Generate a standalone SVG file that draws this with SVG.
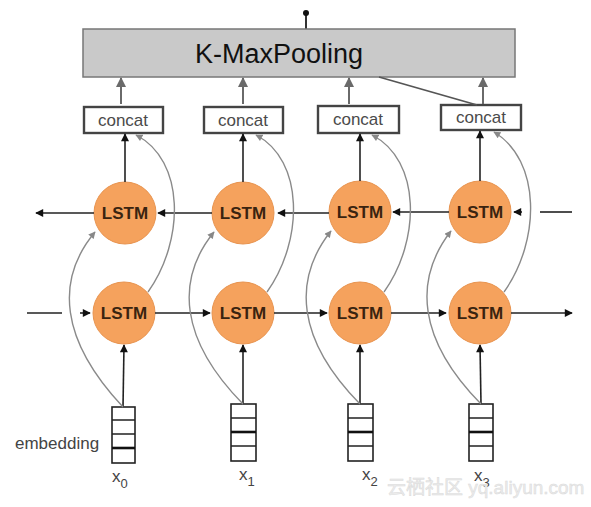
<svg xmlns="http://www.w3.org/2000/svg" width="591" height="507" viewBox="0 0 591 507">
<style>
.lstm{fill:#F5A25D;stroke:#E89450;stroke-width:1}
.lt{font-family:"Liberation Sans",Arial,sans-serif;font-weight:bold;font-size:17px;fill:#3a2410;text-anchor:middle}
.cc{fill:#fff;stroke:#444;stroke-width:2.4}
.ct{font-family:"Liberation Sans",Arial,sans-serif;font-size:17px;fill:#4a4a4a;text-anchor:middle}
.blk{stroke:#222;stroke-width:1.6;fill:none}
.gry{stroke:#8a8a8a;stroke-width:1.4;fill:none}
.pool{stroke:#6a6a6a;stroke-width:2;fill:none}
.emb{fill:#fff;stroke:#222;stroke-width:1.6}
.lab{font-family:"Liberation Sans",Arial,sans-serif;font-size:17px;fill:#444}
</style>
<defs>
<marker id="ab" viewBox="0 0 10 10" refX="9" refY="5" markerWidth="9" markerHeight="8" markerUnits="userSpaceOnUse" orient="auto"><path d="M0 0L10 5L0 10z" fill="#111"/></marker>
<marker id="ag" viewBox="0 0 10 10" refX="9" refY="5" markerWidth="8" markerHeight="7" markerUnits="userSpaceOnUse" orient="auto"><path d="M0 0L10 5L0 10z" fill="#888"/></marker>
<marker id="ap" viewBox="0 0 10 10" refX="9" refY="5" markerWidth="11" markerHeight="10" markerUnits="userSpaceOnUse" orient="auto"><path d="M0 0L10 5L0 10z" fill="#6a6a6a"/></marker>
</defs>
<rect width="591" height="507" fill="#fff"/>

<g id="pool">
<line x1="306" y1="13" x2="306" y2="29" stroke="#333" stroke-width="2"/>
<circle cx="306" cy="13" r="3" fill="#111"/>
<rect x="83" y="29" width="432" height="48" fill="#c9c9c9" stroke="#777" stroke-width="1.5"/>
<text x="279" y="63" font-family="'Liberation Sans',Arial,sans-serif" font-size="27" fill="#111" text-anchor="middle">K-MaxPooling</text>
</g>

<g id="concat0"><rect class="cc" x="84" y="107" width="79" height="26"/><text class="ct" x="123" y="126">concat</text></g>
<g id="concat1"><rect class="cc" x="204" y="107" width="79" height="26"/><text class="ct" x="243" y="126">concat</text></g>
<g id="concat2"><rect class="cc" x="318" y="106" width="81" height="27"/><text class="ct" x="358" y="125">concat</text></g>
<g id="concat3"><rect class="cc" x="441" y="105" width="80" height="25"/><text class="ct" x="481" y="123">concat</text></g>

<g id="lstm_b0"><circle class="lstm" cx="125" cy="213" r="31"/><text class="lt" x="125" y="219">LSTM</text></g>
<g id="lstm_b1"><circle class="lstm" cx="243" cy="213" r="31"/><text class="lt" x="243" y="219">LSTM</text></g>
<g id="lstm_b2"><circle class="lstm" cx="360" cy="212" r="31"/><text class="lt" x="360" y="218">LSTM</text></g>
<g id="lstm_b3"><circle class="lstm" cx="480" cy="212" r="31"/><text class="lt" x="480" y="218">LSTM</text></g>

<g id="lstm_f0"><circle class="lstm" cx="124" cy="313" r="31"/><text class="lt" x="124" y="319">LSTM</text></g>
<g id="lstm_f1"><circle class="lstm" cx="243" cy="313" r="31"/><text class="lt" x="243" y="319">LSTM</text></g>
<g id="lstm_f2"><circle class="lstm" cx="360" cy="313" r="31"/><text class="lt" x="360" y="319">LSTM</text></g>
<g id="lstm_f3"><circle class="lstm" cx="480" cy="313" r="31"/><text class="lt" x="480" y="319">LSTM</text></g>

<g id="emb0"><rect class="emb" x="112" y="407" width="23" height="56"/><path class="blk" d="M112 420H135M112 434H135"/><path d="M112 448H135" stroke="#111" stroke-width="2.6"/></g>
<g id="emb1"><rect class="emb" x="231" y="404" width="25" height="57"/><path class="blk" d="M231 418H256M231 446H256"/><path d="M231 432H256" stroke="#111" stroke-width="2.6"/></g>
<g id="emb2"><rect class="emb" x="348" y="404" width="25" height="57"/><path class="blk" d="M348 418H373M348 446H373"/><path d="M348 432H373" stroke="#111" stroke-width="2.6"/></g>
<g id="emb3"><rect class="emb" x="469" y="404" width="24" height="57"/><path class="blk" d="M469 418H493M469 446H493"/><path d="M469 432H493" stroke="#111" stroke-width="2.6"/></g>

<g id="labels">
<text class="lab" x="15" y="449">embedding</text>
<text class="lab" x="112" y="482">x<tspan font-size="13" dy="6">0</tspan></text>
<text class="lab" x="239" y="480">x<tspan font-size="13" dy="6">1</tspan></text>
<text class="lab" x="362" y="480">x<tspan font-size="13" dy="6">2</tspan></text>
<text class="lab" x="474" y="481">x<tspan font-size="13" dy="6">3</tspan></text>
<text x="387" y="494" font-family="'Liberation Sans','Noto Sans CJK SC',sans-serif" font-size="19" fill="#ececec" stroke="#dadada" stroke-width="0.5">云栖社区 yq.aliyun.com</text>
</g>

<g id="connectors">
<line class="pool" x1="121" y1="104" x2="121" y2="78" marker-end="url(#ap)"/>
<line class="pool" x1="243" y1="104" x2="243" y2="78" marker-end="url(#ap)"/>
<line class="pool" x1="349" y1="104" x2="349" y2="78" marker-end="url(#ap)"/>
<line class="pool" x1="483" y1="104" x2="483" y2="78" marker-end="url(#ap)"/>
<line x1="379" y1="77" x2="477" y2="105" stroke="#555" stroke-width="1.6"/>
<line class="blk" x1="125" y1="182" x2="125" y2="134" marker-end="url(#ab)"/>
<line class="blk" x1="243" y1="182" x2="243" y2="134" marker-end="url(#ab)"/>
<line class="blk" x1="360" y1="181" x2="360" y2="134" marker-end="url(#ab)"/>
<line class="blk" x1="480" y1="181" x2="480" y2="131" marker-end="url(#ab)"/>
<line class="blk" x1="94" y1="213" x2="36" y2="213" marker-end="url(#ab)"/>
<line class="blk" x1="212" y1="213" x2="158" y2="213" marker-end="url(#ab)"/>
<line class="blk" x1="329" y1="213" x2="278" y2="213" marker-end="url(#ab)"/>
<line class="blk" x1="449" y1="212" x2="393" y2="212" marker-end="url(#ab)"/>
<line class="blk" x1="522" y1="212" x2="514" y2="212" marker-end="url(#ab)"/>
<line class="blk" x1="540" y1="212" x2="572" y2="212"/>
<line class="blk" x1="27" y1="313" x2="62" y2="313"/>
<line class="blk" x1="80" y1="313" x2="90" y2="313" marker-end="url(#ab)"/>
<line class="blk" x1="155" y1="313" x2="210" y2="313" marker-end="url(#ab)"/>
<line class="blk" x1="274" y1="313" x2="327" y2="313" marker-end="url(#ab)"/>
<line class="blk" x1="391" y1="313" x2="446" y2="313" marker-end="url(#ab)"/>
<line class="blk" x1="511" y1="313" x2="572" y2="313" marker-end="url(#ab)"/>
<line class="blk" x1="123" y1="407" x2="124" y2="345" marker-end="url(#ab)"/>
<line class="blk" x1="243" y1="404" x2="243" y2="345" marker-end="url(#ab)"/>
<line class="blk" x1="360" y1="404" x2="360" y2="345" marker-end="url(#ab)"/>
<line class="blk" x1="481" y1="404" x2="480" y2="345" marker-end="url(#ab)"/>
<path class="gry" d="M123 407C60 340 55 280 95 232" marker-end="url(#ag)"/>
<path class="gry" d="M243 404C180 340 175 280 214 232" marker-end="url(#ag)"/>
<path class="gry" d="M360 404C297 340 292 280 331 231" marker-end="url(#ag)"/>
<path class="gry" d="M481 404C418 340 413 280 451 231" marker-end="url(#ag)"/>
<path class="gry" d="M148 292C185 240 185 160 136 135" marker-end="url(#ag)"/>
<path class="gry" d="M267 292C304 240 304 160 256 135" marker-end="url(#ag)"/>
<path class="gry" d="M384 292C421 240 421 160 372 135" marker-end="url(#ag)"/>
<path class="gry" d="M504 292C541 240 541 160 494 132" marker-end="url(#ag)"/>
</g>
</svg>
